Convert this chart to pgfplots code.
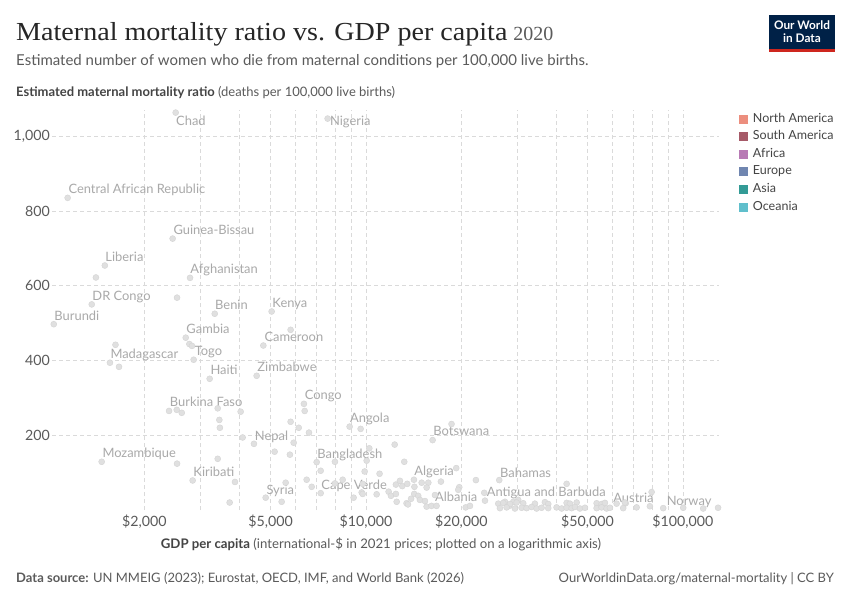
\documentclass[border=0pt]{standalone}
\usepackage{fontspec}
\setmainfont{Lato}
\newfontfamily\titlefont{Liberation Serif}
\usepackage{pgfplots}
\pgfplotsset{compat=1.18}
\definecolor{ptfill}{HTML}{E0E0E0}
\definecolor{ptdraw}{HTML}{D4D4D4}
\definecolor{lblgrey}{HTML}{A9A9A9}
\definecolor{gridc}{HTML}{DADADA}
\definecolor{txtgrey}{HTML}{5B5B5B}
\definecolor{darktxt}{HTML}{444444}
\definecolor{owidblue}{HTML}{002147}
\definecolor{owidred}{HTML}{CE261E}
\definecolor{cNA}{HTML}{EC8E7E}
\definecolor{cSA}{HTML}{A65A68}
\definecolor{cAF}{HTML}{B87AB5}
\definecolor{cEU}{HTML}{7086B0}
\definecolor{cAS}{HTML}{339B96}
\definecolor{cOC}{HTML}{60BFCC}

\pgfplotstableread{
gdp mmr
2510 1063
7570 1047
1145 835
2455 726
1500 654
1406 622
2786 621
2535 568
1364 550
1035 497
3333 525
5040 531
5785 482
4745 440
2700 461
2772 444
2825 439
1621 442
1557 394
1663 383
2860 402
3213 351
4520 359
6372 284
6407 265
3406 272
2392 265
2529 268
2623 260
4024 263
3447 241
3460 220
5785 236
6135 220
6610 207
4083 194
4432 177
5914 180
5150 156
5755 148
8882 223
9620 217
1466 129
2535 124
3406 137
2839 79
3862 75
3715 20
5580 73
4826 33
5420 22
6500 81
6742 62
6990 128
7197 105
7197 45
7984 129
8444 81
7984 71
9143 33
9694 47
9763 70
9763 43
10245 165
10050 132
9907 103
11040 97
10807 42
12320 175
13210 129
11790 49
11990 38
12430 43
12500 22
12430 68
12800 78
13020 64
13500 70
13430 18
14170 81
14220 62
14200 43
13570 15
13880 30
14990 73
15730 73
15540 60
14620 38
14800 27
15350 24
15540 9
16100 11
16700 11
16510 40
16230 187
18620 230
19270 112
17240 76
19700 61
19550 54
20640 7
21290 11
22230 80
23620 46
23740 25
26340 80
27450 22
28320 11
29170 22
30230 27
42970 70
79680 48
66000 18
78690 10
26150 17
27120 19
28470 16
29880 20
31350 18
34120 17
36700 21
37600 16
42970 19
44010 17
46210 20
53430 18
55410 16
56750 19
61780 17
65610 20
26470 5
27790 7
29510 4
30990 6
32130 5
33310 8
34550 4
35830 6
37600 5
39950 7
41440 4
42970 6
44570 5
45640 8
47330 4
49090 6
53430 5
55410 7
57440 4
58850 6
64810 5
71450 7
86670 5
100230 6
115900 4
129100 6
}\mmrdata

\begin{document}
\begin{tikzpicture}[x=1pt,y=1pt]
\path[use as bounding box, fill=white] (0pt,0pt) rectangle (850pt,600pt);
\begin{axis}[
  at={(52pt,90pt)}, anchor=south west,
  width=667pt, height=400pt, scale only axis,
  xmode=log, xmin=1022, xmax=130000, ymin=0, ymax=1070,
  axis line style={draw=none},
  tick style={draw=none},
  major tick length=0pt, minor tick length=0pt,
  xtick={2000,5000,10000,20000,50000,100000},
  xticklabels={\$2{,}000,\$5{,}000,\$10{,}000,\$20{,}000,\$50{,}000,\$100{,}000},
  minor xtick={3000,4000,6000,7000,8000,9000,30000,40000,60000,70000,80000,90000},
  ytick={200,400,600,800,1000},
  yticklabels={200,400,600,800,{1,000}},
  xmajorgrids, xminorgrids, ymajorgrids,
  major grid style={draw=gridc, line width=0.8pt, dash pattern=on 4pt off 3pt},
  minor grid style={draw=gridc, line width=0.8pt, dash pattern=on 4pt off 3pt},
  /pgf/number format/assume math mode=true,
  tick label style={font=\fontsize{14.2}{16}\selectfont, text=txtgrey},
  yticklabel style={anchor=east, inner sep=0pt, xshift=-2pt},
  xticklabel style={anchor=north, inner sep=0pt, yshift=-5pt},
  clip=false,
]
\addplot[only marks, mark=*, mark size=3pt, mark options={fill=ptfill, draw=ptdraw, line width=0.4pt}] table[x=gdp, y=mmr] {\mmrdata};

\begin{scope}[every node/.style={anchor=mid west, inner sep=0pt, yshift=-1.5pt, font=\fontsize{12.9}{14}\selectfont, text=lblgrey}]
\node at (axis cs:2516,1039) {Chad};
\node at (axis cs:7697,1039) {Nigeria};
\node at (axis cs:1151,858) {Central African Republic};
\node at (axis cs:2467,747) {Guinea-Bissau};
\node at (axis cs:1505,675) {Liberia};
\node at (axis cs:2791,644) {Afghanistan};
\node at (axis cs:1369,571) {DR Congo};
\node at (axis cs:1039,517) {Burundi};
\node at (axis cs:3340,546) {Benin};
\node at (axis cs:5062,553) {Kenya};
\node at (axis cs:2711,483) {Gambia};
\node at (axis cs:4778,461) {Cameroon};
\node at (axis cs:2881,424) {Togo};
\node at (axis cs:1561,415) {Madagascar};
\node at (axis cs:3228,373) {Haiti};
\node at (axis cs:4540,381) {Zimbabwe};
\node at (axis cs:6407,306) {Congo};
\node at (axis cs:2404,287) {Burkina Faso};
\node at (axis cs:4456,198) {Nepal};
\node at (axis cs:8902,244) {Angola};
\node at (axis cs:1473,151) {Mozambique};
\node at (axis cs:7022,149) {Bangladesh};
\node at (axis cs:2852,100) {Kiribati};
\node at (axis cs:4848,53) {Syria};
\node at (axis cs:7228,65) {Cape Verde};
\node at (axis cs:16310,209) {Botswana};
\node at (axis cs:14200,104) {Algeria};
\node at (axis cs:26470,98) {Bahamas};
\node at (axis cs:16510,34) {Albania};
\node at (axis cs:24040,46) {Antigua and Barbuda};
\node at (axis cs:60270,31) {Austria};
\node at (axis cs:88840,24) {Norway};
\end{scope}
\end{axis}

% Title and subtitle
\node[anchor=base west, inner sep=0pt] at (16pt,559pt) {\scalebox{1.08}[1]{\titlefont\fontsize{26}{28}\selectfont\color{black!85}Maternal mortality ratio vs. GDP per capita}\hspace{6pt}{\titlefont\fontsize{20}{22}\selectfont\color{txtgrey}2020}};
\node[anchor=base west, inner sep=0pt, font=\fontsize{15}{17}\selectfont, text=txtgrey] at (16pt,534pt) {Estimated number of women who die from maternal conditions per 100,000 live births.};
\node[anchor=base west, inner sep=0pt, font=\fontsize{13}{15}\selectfont, text=darktxt] at (16pt,503pt) {\textbf{Estimated maternal mortality ratio} {\color{txtgrey}(deaths per 100,000 live births)}};
\node[anchor=base, inner sep=0pt, font=\fontsize{13.2}{15}\selectfont, text=darktxt] at (381pt,52pt) {\textbf{GDP per capita} {\color{txtgrey}(international-\$ in 2021 prices; plotted on a logarithmic axis)}};

% Footer
\node[anchor=base west, inner sep=0pt, font=\fontsize{13}{15}\selectfont, text=txtgrey] at (16pt,18pt) {\textbf{Data source:} UN MMEIG (2023); Eurostat, OECD, IMF, and World Bank (2026)};
\node[anchor=base east, inner sep=0pt, font=\fontsize{13}{15}\selectfont, text=txtgrey] at (834pt,18pt) {OurWorldinData.org/maternal-mortality | CC BY};

% Logo
\fill[owidblue] (769pt,548pt) rectangle (835pt,585pt);
\fill[owidred] (769pt,548pt) rectangle (835pt,551pt);
\node[align=center, text=white, inner sep=0pt, font=\fontsize{11.8}{13}\selectfont\bfseries] at (802pt,568pt) {Our World\\in Data};

% Legend
\begin{scope}[every node/.style={anchor=mid west, inner sep=0pt, font=\fontsize{12.5}{14}\selectfont, text=darktxt}]
\fill[cNA] (738.5pt,476.2pt) rectangle (747.5pt,485.2pt); \node at (752.7pt,480.4pt) {North America};
\fill[cSA] (738.5pt,458.8pt) rectangle (747.5pt,467.8pt); \node at (752.7pt,463.0pt) {South America};
\fill[cAF] (738.5pt,441.2pt) rectangle (747.5pt,450.2pt); \node at (752.7pt,445.4pt) {Africa};
\fill[cEU] (738.5pt,423.5pt) rectangle (747.5pt,432.5pt); \node at (752.7pt,427.7pt) {Europe};
\fill[cAS] (738.5pt,405.5pt) rectangle (747.5pt,414.5pt); \node at (752.7pt,409.7pt) {Asia};
\fill[cOC] (738.5pt,388.2pt) rectangle (747.5pt,397.2pt); \node at (752.7pt,392.4pt) {Oceania};
\end{scope}
\end{tikzpicture}
\end{document}
